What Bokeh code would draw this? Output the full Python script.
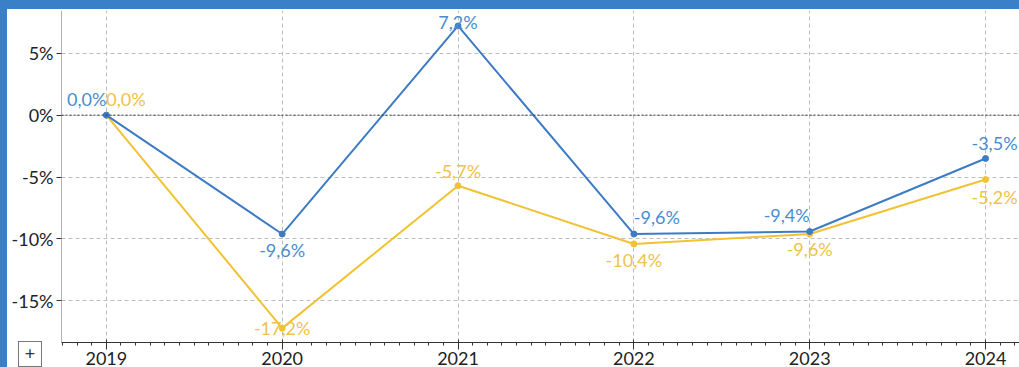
import numpy as np
from bokeh.plotting import figure
from bokeh.models import (Range1d, FixedTicker, PrintfTickFormatter, Span,
                          ColumnDataSource, Spacer, Div)
from bokeh.layouts import column, row
from bokeh.core.properties import value
from bokeh.embed import file_html
from bokeh.resources import INLINE

# ---------------- data ----------------
years = [2019, 2020, 2021, 2022, 2023, 2024]
blue_vals = [0.0, -9.6, 7.2, -9.6, -9.4, -3.5]
yellow_vals = [0.0, -17.2, -5.7, -10.4, -9.6, -5.2]
y_ticks = [-15, -10, -5, 0, 5]

# ---------------- style ----------------
BLUE = "#3d7cc4"
BLUE_TXT = "#4a8cce"
YELLOW = "#f1c232"
YELLOW_TXT = "#f0c24a"
FRAME = "#3a80c8"
FONT = "Lato"
FS = "18px"

# label placement (style): align, baseline, x_offset, y_offset
blue_align = ["right", "center", "center", "left", "right", "right"]
blue_base = ["bottom", "top", "bottom", "bottom", "bottom", "bottom"]
blue_dx = [0, 0, 0, 0, 0, 32]
blue_dy = [-5, 5, 7, -6, -6, -4]

yel_align = ["left", "center", "center", "center", "center", "right"]
yel_base = ["bottom", "middle", "bottom", "top", "top", "top"]
yel_dx = [0, 0, 0, 0, 0, 32]
yel_dy = [-5, 0, -4, 5, 4, 6]


def fmt(v):
    return ("%.1f%%" % v).replace(".", ",")


p = figure(width=1012, height=358, output_backend="svg", toolbar_location=None,
           x_range=Range1d(2018.745, 2024.193), y_range=Range1d(-18.36, 8.45),
           min_border_left=54, min_border_right=0, min_border_top=1,
           min_border_bottom=24)
p.outline_line_color = None
p.background_fill_color = "white"
p.border_fill_color = "white"

# axes
p.xaxis.ticker = FixedTicker(ticks=years,
                             minor_ticks=list(np.arange(years[0] - 1, years[-1] + 1.01, 1 / 12)))
p.xaxis.axis_line_color = "#333333"
p.xaxis.major_tick_line_color = "#333333"
p.xaxis.minor_tick_line_color = "#333333"
p.xaxis.major_tick_in = 3
p.xaxis.major_tick_out = 7
p.xaxis.minor_tick_in = 0
p.xaxis.minor_tick_out = 3
p.xaxis.major_label_standoff = 2
p.xaxis.major_label_text_font = FONT
p.xaxis.major_label_text_font_size = FS
p.xaxis.major_label_text_color = "#222222"

p.yaxis.ticker = FixedTicker(ticks=y_ticks)
p.yaxis.formatter = PrintfTickFormatter(format="%d%%")
p.yaxis.axis_line_color = "#b0b0b0"
p.yaxis.major_tick_line_color = "#333333"
p.yaxis.major_tick_in = 0
p.yaxis.major_tick_out = 5
p.yaxis.minor_tick_line_color = None
p.yaxis.major_label_standoff = 3
p.yaxis.major_label_text_font = FONT
p.yaxis.major_label_text_font_size = FS
p.yaxis.major_label_text_color = "#222222"

# grids
p.xgrid.ticker = FixedTicker(ticks=years)
p.xgrid.grid_line_color = "#bdbdbd"
p.xgrid.grid_line_dash = "4 3"
p.ygrid.grid_line_color = "#bdbdbd"
p.ygrid.grid_line_dash = "4 3"

p.add_layout(Span(location=0, dimension="width", line_color="#333333",
                  line_dash="2 2", line_width=1))

# series
for vals, col, tcol, al, bl, dx, dy in [
    (yellow_vals, YELLOW, YELLOW_TXT, yel_align, yel_base, yel_dx, yel_dy),
    (blue_vals, BLUE, BLUE_TXT, blue_align, blue_base, blue_dx, blue_dy),
]:
    src = ColumnDataSource(dict(x=years, y=vals, t=[fmt(v) for v in vals],
                                al=al, bl=bl, dx=dx, dy=dy))
    p.line("x", "y", source=src, line_color=col, line_width=2)
    p.scatter("x", "y", source=src, size=6, fill_color=col, line_color=col)
    p.text("x", "y", text="t", source=src, text_color=tcol,
           text_font=value(FONT), text_font_size=FS,
           text_align="al", text_baseline="bl", x_offset="dx", y_offset="dy")

# small "+" button at the bottom left (overlaid on the page)
plus = Div(text="+", width=24, height=26,
           styles={"position": "absolute", "left": "13px", "top": "336px",
                   "border": "1px solid #777777", "background-color": "white",
                   "font-family": FONT, "font-size": "18px", "color": "#333333",
                   "text-align": "center", "line-height": "22px",
                   "box-sizing": "border-box", "z-index": "10"})

band_top = Spacer(width=1019, height=9, styles={"background-color": FRAME})
band_left = Spacer(width=7, height=358, styles={"background-color": FRAME})
layout = column(band_top, row(band_left, p, spacing=0), plus, spacing=0)

open("out.html", "w").write(file_html(layout, INLINE))
